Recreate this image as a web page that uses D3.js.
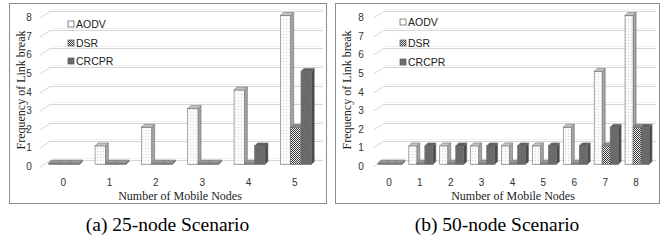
<!DOCTYPE html>
<html>
<head>
<meta charset="utf-8">
<script src="https://cdn.jsdelivr.net/npm/d3@7/dist/d3.min.js"></script>
<style>
  body { margin: 0; background: #fff; }
  .tick-txt { font-family: "Liberation Sans Narrow", "Liberation Sans", sans-serif; font-size: 10px; fill: #333; }
  .leg-txt { font-family: "Liberation Sans Narrow", "Liberation Sans", sans-serif; font-size: 10.5px; fill: #222; }
  .ttl { font-family: "Liberation Serif", serif; font-size: 12px; fill: #222; }
  .cap { font-family: "Liberation Serif", serif; font-size: 19.5px; fill: #000; }
</style>
</head>
<body>
<svg id="chart" width="666" height="240"></svg>
<script>
// values
const seriesNames = ['AODV', 'DSR', 'CRCPR'];
const yTicks = [0, 1, 2, 3, 4, 5, 6, 7, 8];

const nodes25 = ['0', '1', '2', '3', '4', '5'];
const aodv25 = [0, 1, 2, 3, 4, 8];
const dsr25 = [0, 0, 0, 0, 0, 2];
const crcpr25 = [0, 0, 0, 0, 1, 5];

const nodes50 = ['0', '1', '2', '3', '4', '5', '6', '7', '8'];
const aodv50 = [0, 1, 1, 1, 1, 1, 2, 5, 8];
const dsr50 = [0, 0, 0, 0, 0, 0, 0, 1, 2];
const crcpr50 = [0, 1, 1, 1, 1, 1, 1, 2, 2];

const svg = d3.select('#chart');
const defs = svg.append('defs');

// fills for the 3 series (stipple, checker hatch, dark grey)
const stip = defs.append('pattern').attr('id', 'stip').attr('patternUnits', 'userSpaceOnUse')
  .attr('width', 3).attr('height', 3);
stip.append('rect').attr('width', 3).attr('height', 3).attr('fill', '#fbfbfb');
stip.append('rect').attr('x', 1).attr('y', 1).attr('width', 1).attr('height', 1).attr('fill', '#d4d4d4');

const hatch = defs.append('pattern').attr('id', 'hatch').attr('patternUnits', 'userSpaceOnUse')
  .attr('width', 2).attr('height', 2);
hatch.append('rect').attr('width', 2).attr('height', 2).attr('fill', '#f2f2f2');
hatch.append('rect').attr('width', 1).attr('height', 1).attr('fill', '#3a3a3a');
hatch.append('rect').attr('x', 1).attr('y', 1).attr('width', 1).attr('height', 1).attr('fill', '#3a3a3a');

const dark = defs.append('pattern').attr('id', 'dark').attr('patternUnits', 'userSpaceOnUse')
  .attr('width', 3).attr('height', 3);
dark.append('rect').attr('width', 3).attr('height', 3).attr('fill', '#707070');
dark.append('path').attr('d', 'M0,3L3,0').attr('stroke', '#5c5c5c').attr('stroke-width', 0.8);

const faces = [
  { front: 'url(#stip)', side: '#a4a4a4', top: '#c4c4c4' },
  { front: 'url(#hatch)', side: '#5a5a5a', top: '#8a8a8a' },
  { front: 'url(#dark)', side: '#4a4a4a', top: '#5e5e5e' }
];

function drawPanel(cfg) {
  const g = svg.append('g');
  const depth = 3;

  // frame
  g.append('rect').attr('x', cfg.frame[0] + 0.5).attr('y', 3.5)
    .attr('width', cfg.frame[1] - cfg.frame[0]).attr('height', 200)
    .attr('fill', 'none').attr('stroke', '#8c8c8c');

  const x = d3.scaleBand().domain(cfg.cats).range(cfg.xRange);
  const yWall = d3.scaleLinear().domain([0, 8]).range([160, 11]);
  const yFront = v => yWall(v) + 6.5;
  const yBar = v => yWall(v) + 4.5;

  // back wall gridlines with the side-wall slant
  yTicks.forEach(t => {
    const yy = Math.round(yWall(t)) + 0.5;
    g.append('path')
      .attr('d', `M${cfg.xRange[0]},${yy + 6.5}L${cfg.xRange[0] + 10},${yy}L${cfg.frame[1] - 3},${yy}`)
      .attr('fill', 'none').attr('stroke', '#d6d6d6').attr('stroke-width', 1);
    g.append('line').attr('x1', cfg.xRange[0] + 12).attr('x2', cfg.frame[1] - 3)
      .attr('y1', yy - 2).attr('y2', yy - 2).attr('stroke', '#f1f1f1');
    g.append('text').attr('class', 'tick-txt').attr('x', cfg.tickX).attr('y', yFront(t))
      .attr('dy', '0.35em').attr('text-anchor', 'middle').text(t);
  });

  // x tick labels
  g.selectAll('.xl').data(cfg.cats).enter().append('text')
    .attr('class', 'tick-txt').attr('x', d => x(d) + x.bandwidth() / 2).attr('y', 182)
    .attr('dy', '0.35em').attr('text-anchor', 'middle').text(d => d);

  const inner = d3.scaleBand().domain(seriesNames).range([0, cfg.barW * 3]);
  const series = [cfg.a, cfg.d, cfg.c];

  series.forEach((vals, si) => {
    const f = faces[si];
    vals.forEach((v, ci) => {
      const x0 = x(cfg.cats[ci]) + x.bandwidth() / 2 - cfg.barW * 1.5 + cfg.shift + inner(seriesNames[si]);
      const w = inner.bandwidth();
      const yb = yBar(0);
      const yt = v > 0 ? yBar(v) : yb - 1.5;
      const bg = g.append('g').attr('stroke', v > 0 ? '#6e6e6e' : '#777').attr('stroke-width', 0.6);
      // side face
      bg.append('path')
        .attr('d', `M${x0 + w},${yt}L${x0 + w + depth},${yt - depth}L${x0 + w + depth},${yb - depth}L${x0 + w},${yb}Z`)
        .attr('fill', f.side);
      // front face
      bg.append('rect').attr('x', x0).attr('y', yt).attr('width', w).attr('height', yb - yt)
        .attr('fill', v > 0 ? f.front : '#808080');
      // top face
      bg.append('path')
        .attr('d', `M${x0},${yt}L${x0 + depth},${yt - depth}L${x0 + w + depth},${yt - depth}L${x0 + w},${yt}Z`)
        .attr('fill', v > 0 ? f.top : '#9a9a9a');
    });
  });

  // legend
  const leg = g.selectAll('.leg').data(seriesNames).enter().append('g')
    .attr('transform', (d, i) => `translate(${cfg.legX},${cfg.legY[i]})`);
  leg.append('rect').attr('x', 0).attr('y', -3).attr('width', 6).attr('height', 6)
    .attr('fill', (d, i) => i === 0 ? '#fff' : faces[i].front)
    .attr('stroke', '#555').attr('stroke-width', 0.7);
  leg.append('text').attr('class', 'leg-txt').attr('x', 8).attr('dy', '0.35em').text(d => d);

  // axis titles
  g.append('text').attr('class', 'ttl')
    .attr('transform', `translate(${cfg.frame[0] + 12},90) rotate(-90)`)
    .attr('text-anchor', 'middle').attr('dy', '0.35em').text('Frequency of Link break');
  g.append('text').attr('class', 'ttl').attr('x', cfg.titleX).attr('y', 196)
    .attr('text-anchor', 'middle').attr('dy', '0.35em').text('Number of Mobile Nodes');

  // caption
  g.append('text').attr('class', 'cap').attr('x', (cfg.frame[0] + cfg.frame[1]) / 2).attr('y', 231)
    .attr('text-anchor', 'middle').text(cfg.caption);
}

drawPanel({
  frame: [9, 326], cats: nodes25, a: aodv25, d: dsr25, c: crcpr25,
  xRange: [40, 318], barW: 10.3, shift: 1, tickX: 29, titleX: 180,
  legX: 68, legY: [24, 43, 61], caption: '(a) 25-node Scenario'
});
drawPanel({
  frame: [335, 659], cats: nodes50, a: aodv50, d: dsr50, c: crcpr50,
  xRange: [373.5, 651.5], barW: 8, shift: 1, tickX: 361, titleX: 513,
  legX: 400, legY: [22, 43, 62], caption: '(b) 50-node Scenario'
});
</script>
</body>
</html>
